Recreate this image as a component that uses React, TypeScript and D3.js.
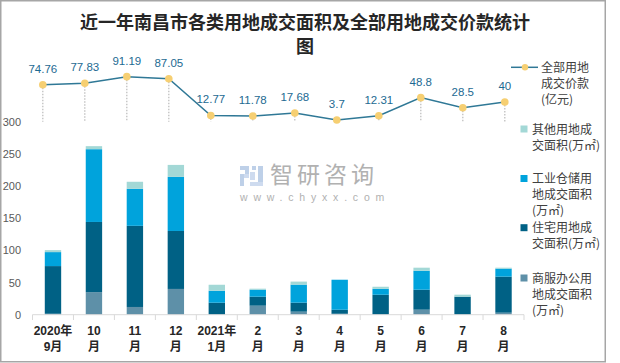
import React, { useEffect } from "react";
import * as d3 from "d3";

const catLine1 = ["2020年", "10", "11", "12", "2021年", "2", "3", "4", "5", "6", "7", "8"];
const catLine2 = ["9月", "月", "月", "月", "1月", "月", "月", "月", "月", "月", "月", "月"];
const categories = catLine1.map((c, i) => c + catLine2[i]);

const shangfu = [1.5, 35, 12, 40, 0, 14, 4.7, 1.5, 0, 7.8, 0, 3.1];
const zhuzhai = [74, 109, 126, 90, 18.6, 14, 14, 6.2, 31, 31, 28, 56];
const gongye = [21.7, 113, 57.5, 84, 18.6, 10.9, 28, 46.6, 9.3, 29.5, 0, 12.4];
const qita = [3.1, 4.7, 10.9, 18.6, 9.3, 1.5, 4.7, 0, 3.1, 4.7, 3.1, 1.5];
const price = [74.76, 77.83, 91.19, 87.05, 12.77, 11.78, 17.68, 3.7, 12.31, 48.8, 28.5, 40];
const yTicks = [0, 50, 100, 150, 200, 250, 300];

const seriesKeys = ["shangfu", "zhuzhai", "gongye", "qita"];
const seriesColors: Record<string, string> = {
  shangfu: "#5e90a8",
  zhuzhai: "#006185",
  gongye: "#00a3dc",
  qita: "#a3d8d6",
};

const FONT = "'Liberation Sans', 'Noto Sans CJK SC', sans-serif";
const CJK = "'Noto Sans CJK SC', sans-serif";

export default function App() {
  useEffect(() => {
    document.body.style.margin = "0";
  }, []);

  const rows = categories.map((c, i) => ({
    cat: c,
    shangfu: shangfu[i],
    zhuzhai: zhuzhai[i],
    gongye: gongye[i],
    qita: qita[i],
  }));
  const stacked = d3.stack<any>().keys(seriesKeys)(rows);

  const x = d3
    .scaleBand<string>()
    .domain(categories)
    .range([32.5, 524])
    .paddingInner(0.6)
    .paddingOuter(0.3);
  const y = d3.scaleLinear().domain([0, 300]).range([314.7, 121.5]);

  const xl = d3.scalePoint<string>().domain(categories).range([42.8, 504.8]);
  const yl = d3.scaleLinear().domain([0, 100]).range([121.8, 72.3]);

  const lineGen = d3
    .line<number>()
    .x((_, i) => xl(categories[i]) as number)
    .y((d) => yl(d));

  const step = x.step();
  const x0 = x.range()[0];
  const boundaries = d3.range(categories.length + 1).map((i) => x0 + i * step);

  const legendItems = [
    { key: "qita", lines: ["其他用地成", "交面积(万㎡)"], y: 129 },
    { key: "gongye", lines: ["工业仓储用", "地成交面积", "(万㎡)"], y: 178.5 },
    { key: "zhuzhai", lines: ["住宅用地成", "交面积(万㎡)"], y: 227.7 },
    { key: "shangfu", lines: ["商服办公用", "地成交面积", "(万㎡)"], y: 278 },
  ];

  return (
    <svg
      width={620}
      height={363}
      style={{ position: "absolute", left: 0, top: 0, display: "block", background: "#fff" }}
    >
      <rect x={0.75} y={0.75} width={604.5} height={361} fill="#fff" stroke="#a6a6a6" strokeWidth={1.5} />

      {/* title */}
      <text x={305} y={29} textAnchor="middle" fontFamily={CJK} fontWeight={700} fontSize={18} fill="#262626">
        近一年南昌市各类用地成交面积及全部用地成交价款统计
      </text>
      <text x={305} y={53} textAnchor="middle" fontFamily={CJK} fontWeight={700} fontSize={18} fill="#262626">
        图
      </text>

      {/* watermark */}
      <g opacity={0.9}>
        <rect x={240} y={166} width={9} height={4} fill="#b7cbe6" />
        <rect x={245} y={166} width={4} height={10} fill="#b7cbe6" />
        <rect x={240} y={174} width={9} height={4} fill="#c9d8ee" />
        <rect x={240} y={174} width={4} height={12} fill="#b7cbe6" />
        <rect x={252} y={166} width={4} height={4} fill="#b7cbe6" />
        <rect x={258} y={166} width={5} height={18} fill="#b7cbe6" />
        <rect x={250} y={182} width={13} height={4} fill="#c9d8ee" />
        <rect x={250} y={172} width={5} height={8} fill="#c9d8ee" />
        <text x={270} y={183} fontFamily={CJK} fontSize={23} letterSpacing={4} fill="#a9a9a9">
          智研咨询
        </text>
        <text x={240} y={201} fontFamily={FONT} fontSize={10.5} letterSpacing={5.8} fill="#a9a9a9">
          www.chyxx.com
        </text>
      </g>

      {/* y axis labels */}
      {yTicks.map((t) => (
        <text key={t} x={21} y={y(t) + 4} textAnchor="end" fontFamily={FONT} fontSize={11} fill="#595959">
          {t}
        </text>
      ))}

      {/* bars */}
      {stacked.map((s) => (
        <g key={s.key} fill={seriesColors[s.key]}>
          {s.map((d, i) =>
            d[1] - d[0] > 0 ? (
              <rect
                key={i}
                x={x(categories[i])}
                y={y(d[1])}
                width={x.bandwidth()}
                height={y(d[0]) - y(d[1])}
              />
            ) : null
          )}
        </g>
      ))}

      {/* x axis */}
      <line x1={x0} x2={boundaries[boundaries.length - 1]} y1={314.7} y2={314.7} stroke="#d9d9d9" strokeWidth={1} />
      {boundaries.map((b, i) => (
        <line key={i} x1={b} x2={b} y1={314.7} y2={320} stroke="#d9d9d9" strokeWidth={1} />
      ))}
      {categories.map((c, i) => {
        const cx = (x(c) as number) + x.bandwidth() / 2;
        return (
          <g key={c} fontFamily={FONT} fontWeight={700} fontSize={12} fill="#262626" textAnchor="middle">
            <text x={cx} y={335}>{catLine1[i]}</text>
            <text x={cx} y={351}>{catLine2[i]}</text>
          </g>
        );
      })}

      {/* drop lines */}
      {price.map((p, i) => (
        <line
          key={i}
          x1={xl(categories[i])}
          x2={xl(categories[i])}
          y1={yl(p)}
          y2={yl(0)}
          stroke="#bfbfbf"
          strokeWidth={1.3}
          strokeDasharray="1.5,1.5"
        />
      ))}

      {/* line */}
      <path d={lineGen(price) as string} fill="none" stroke="#2f7896" strokeWidth={1.5} />
      {price.map((p, i) => (
        <g key={i}>
          <circle cx={xl(categories[i])} cy={yl(p)} r={3.8} fill="#f6cf72" />
          <text
            x={xl(categories[i])}
            y={yl(p) - 12}
            textAnchor="middle"
            fontFamily={FONT}
            fontSize={11.5}
            fill="#1d6a92"
          >
            {p}
          </text>
        </g>
      ))}

      {/* legend */}
      <line x1={511} x2={538} y1={67.3} y2={67.3} stroke="#2f7896" strokeWidth={1.5} />
      <circle cx={525} cy={67.3} r={3.2} fill="#f6cf72" />
      {["全部用地", "成交价款", "(亿元)"].map((t, i) => (
        <text key={t} x={541} y={67 + i * 16 + 4.5} fontFamily={CJK} fontSize={12} fill="#404040">
          {t}
        </text>
      ))}
      {legendItems.map((it) => (
        <g key={it.key}>
          <rect x={520.5} y={it.y - 3.5} width={7} height={7} fill={seriesColors[it.key]} />
          {it.lines.map((t, j) => (
            <text key={j} x={532} y={it.y + j * 16.2 + 4.5} fontFamily={CJK} fontSize={12} fill="#404040">
              {t}
            </text>
          ))}
        </g>
      ))}
    </svg>
  );
}
